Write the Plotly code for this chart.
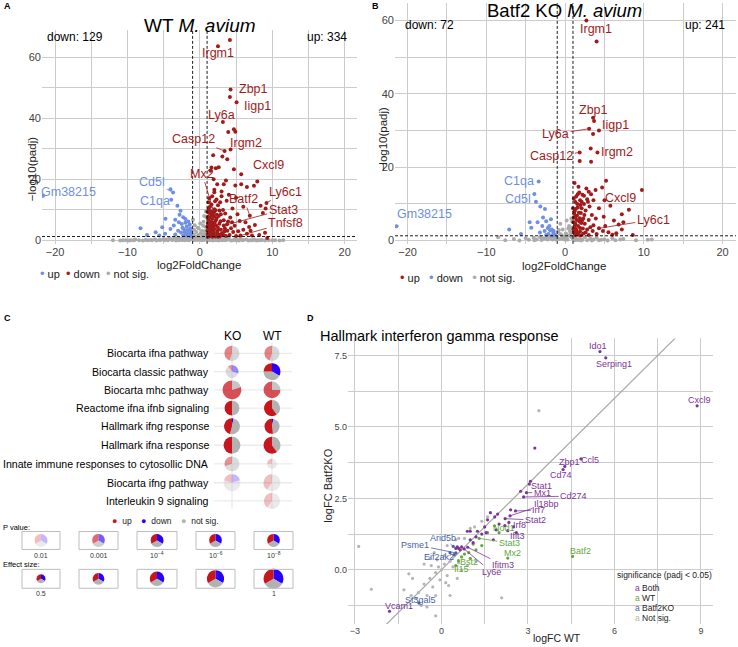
import plotly.graph_objects as go
import math

# ================= DATA =================
# ---- Panel A : WT M. avium volcano (log2FoldChange, -log10 padj) ----
A_red_x = [4.15,2.5,4.24,4.15,5.07,3.18,3.92,4.7,4.9,3.41,4.24,3.78,1.84,3.1,2.6,1.6,1.5,2.2,5.71,4.7,7.93,5.71,2.4,3.3,4.9,6.5,7.47,3.0,2.0,1.7,4.0,5.0,3.7,2.8,9.2,8.39,9.08,6.0,2.5,1.4,4.5,3.2,2.0,1.2,1.94,6.9,5.2,3.5,2.6,1.6,1.1,4.2,8.7,7.6,9.3,9.0,6.3,5.5,3.3,2.2,1.4,1.1,1.8,2.7,3.9,4.8,1.3,2.0,2.9,3.8,4.6,5.6,6.5,7.2,1.2,1.6,2.4,3.2,4.1,5.0,1.1,1.5,2.0,2.8,1.3,6.0,7.0,8.2,3.6,2.3,1.7,1.3,2.1,3.0,1.5,2.5,3.4,1.9,4.3,5.3,6.8,1.2,1.9,3.6,
           1.05,1.25,1.45,1.65,1.85,2.05,2.25,2.45,2.65,2.85,1.15,1.35,1.55,1.75,1.95,2.15,2.35,1.05,1.25,1.15,1.35,1.55,1.75,1.95,2.15,2.55,3.05,3.45,3.75,4.45,1.05,1.45,1.7,2.9,3.3,1.6,2.3,1.3,2.0,2.7]
A_red_y = [65.6,63.5,49.4,46.9,45.2,38.8,35.5,36.4,35.6,29.3,29.8,26.6,27.9,27.5,24.0,23.9,22.8,23.6,21.7,23.3,19.3,18.4,18.4,18.4,18.0,17.5,17.9,16.0,15.8,14.5,15.0,14.0,13.0,12.5,12.3,11.4,10.5,11.0,11.5,11.0,10.5,10.0,10.2,9.8,9.2,8.1,8.6,8.8,8.0,8.3,7.8,7.5,9.0,5.1,0.8,2.5,6.0,6.4,4.9,6.6,6.2,5.6,5.0,5.5,6.2,4.8,4.2,3.8,3.5,3.2,2.8,1.6,2.2,1.6,3.0,2.6,2.4,2.0,1.8,1.5,2.0,1.6,1.5,1.4,1.4,3.5,3.2,1.8,1.5,7.2,7.0,9.0,12.8,14.5,4.5,4.2,3.0,2.2,4.0,3.0,4.4,12.5,20.0,19.6,
           3.3,4.9,5.5,3.4,4.4,5.8,4.9,3.2,2.0,6.3,6.8,7.5,9.6,8.6,7.9,9.9,8.4,9.5,10.6,1.2,2.3,1.9,1.2,2.8,1.3,1.2,2.4,4.0,5.3,6.0,4.6,3.6,5.9,8.6,6.6,11.8,13.4,13.8,16.6,9.8]
A_blue_x = [-21.66,-3.7,-4.06,-3.96,-3.1,-2.67,-2.3,-4.75,-8.2,-7.3,-6.1,-4.06,-3.6,-5.2,-2.9,-2.5,-2.0,-1.6,-1.8,-1.3,-2.2,-3.0,-1.5,-2.6,-1.9,-1.2,-3.4,-2.3,-1.6,-1.3,-4.8,-2.0,-3.4,-2.8,-1.4,-5.6,-1.7,-2.1,-1.45,-1.95,-2.4,-1.25]
A_blue_y = [14.6,15.7,16.8,13.3,11.4,9.7,7.6,7.1,4.0,1.8,2.7,3.8,4.9,4.3,6.0,5.4,5.8,6.2,4.6,4.0,3.7,3.2,3.0,2.6,2.3,2.2,2.0,1.7,1.6,1.5,2.2,7.0,6.8,8.4,5.2,1.6,3.4,2.8,2.5,1.9,4.2,3.1]
A_gray_x = [-8.9,-7.5,-6.2,-5.0,-4.2,-3.5,-3.0,-2.6,-2.2,-1.9,-1.6,-1.3,-1.1,-0.9,-0.8,-0.7,-0.6,-0.5,-0.4,-0.3,-0.2,-0.1,0.0,0.1,0.2,0.3,0.4,0.5,0.6,0.7,0.8,0.9,0.95,0.85,0.7,0.6,0.45,1.2,1.6,2.1,2.7,3.3,4.0,4.8,5.6,6.4,7.5,8.6,10.4,-10.2,-0.95,-0.75,0.25,-0.35,0.05,-0.15,0.35,-0.55,0.75,-1.0,-12.0,-9.5,-6.8,-5.6,-4.6,-3.8,-3.2,-2.8,-2.4,-2.0,-1.7,-1.4,1.5,2.4,3.0,3.8,5.2,6.0,7.0,8.0,9.5,11.5,
            -11.0,-10.6,-9.8,-9.1,-8.4,-7.9,-7.2,-6.6,-6.0,-5.4,-4.9,-4.4,-3.9,-3.3,-2.9,-2.5,-2.1,-1.8,-1.5,-1.2,1.3,1.8,2.2,2.6,3.1,3.5,4.3,4.6,5.0,5.4,5.9,6.7,7.3,7.8,8.3,9.0,10.0,11.0,-0.65,-0.45,-0.25,0.15,0.55,0.9]
A_gray_y = [0.3,0.2,0.4,0.5,0.7,0.9,1.0,0.6,0.8,1.1,0.4,0.9,1.2,2.0,3.5,5.0,1.4,2.8,0.6,4.2,1.8,0.3,1.0,2.4,0.5,3.2,1.5,6.1,0.8,2.2,4.4,7.5,1.2,9.5,3.0,8.0,4.8,0.5,0.9,0.4,0.8,0.6,0.9,0.4,0.7,0.3,0.3,0.2,0.1,0.1,6.8,0.2,0.1,0.15,5.6,3.9,2.0,1.0,1.8,0.5,0.05,0.1,0.15,0.2,0.3,0.2,0.45,0.3,0.2,0.5,0.2,0.3,0.2,0.3,0.15,0.25,0.15,0.2,0.1,0.1,0.05,0.05,
            0.0,0.1,0.0,0.05,0.1,0.0,0.05,0.1,0.0,0.15,0.05,0.1,0.3,0.0,0.1,0.2,0.05,0.3,0.1,0.5,0.05,0.0,0.1,0.0,0.05,0.1,0.0,0.05,0.1,0.0,0.05,0.0,0.1,0.0,0.05,0.0,0.1,0.0,0.6,0.3,0.7,0.4,0.2,0.3]
A_genes = ["Irgm1","Zbp1","Iigp1","Ly6a","Casp12","Irgm2","Cxcl9","Ly6c1","Batf2","Stat3","Tnfsf8","Mx2","Cd5l","C1qa","Gm38215"]
A_gene_lfc = [2.5,4.24,5.07,3.18,3.41,4.24,7.93,9.2,6.9,3.3,5.6,1.94,-3.7,-3.96,-21.66]
A_gene_p = [63.5,49.4,45.2,38.8,29.3,29.8,19.3,12.3,8.1,4.9,1.6,9.2,15.7,13.3,14.6]
A_counts = {"down": 129, "up": 334}

# ---- Panel B : Batf2 KO M. avium volcano ----
B_red_x = [2.7,4.0,3.68,3.55,4.3,3.55,3.05,3.25,4.1,1.85,1.85,3.3,5.2,1.2,9.75,4.7,3.87,1.8,3.0,2.2,2.8,1.4,1.9,3.6,2.4,1.3,5.75,8.1,7.2,4.3,3.1,1.6,2.6,1.2,2.0,3.4,4.9,1.5,2.3,1.1,7.4,6.2,3.0,1.8,1.3,2.5,4.3,3.6,5.1,6.8,7.2,1.2,1.9,2.8,3.5,5.5,6.5,1.1,1.6,2.3,4.0,6.0,1.3,2.0,3.0,4.8,8.6,1.4,2.1,1.7,2.9,5.0,
           1.05,1.25,1.45,1.65,1.85,2.05,2.25,2.45,1.15,1.35,1.55,1.75,1.95,2.15,1.05,1.2,1.45,1.7,2.6,3.2,1.1,1.6,2.4,3.3,2.7,3.9,1.3,1.9,2.1,1.0]
B_red_y = [60.0,54.3,32.6,33.5,30.0,29.1,30.5,25.1,24.0,24.0,21.7,21.5,16.3,15.7,13.8,14.5,13.8,13.1,13.3,12.5,11.3,12.0,11.0,11.0,10.0,10.5,9.5,8.4,7.2,8.8,9.3,9.0,8.2,8.0,7.5,7.0,6.5,6.8,6.0,6.2,5.0,5.5,5.6,5.2,4.6,4.6,3.35,4.2,4.0,4.4,3.0,3.6,3.4,3.0,2.6,2.3,2.0,2.4,2.0,1.9,1.8,1.6,1.5,1.4,1.5,2.6,1.5,3.0,8.8,14.7,10.6,11.0,
           3.1,4.2,5.6,4.0,6.1,4.8,3.3,7.0,7.3,8.6,10.0,7.6,9.7,5.4,5.0,1.9,2.6,1.6,2.2,3.6,11.4,12.6,12.2,12.6,14.2,6.0,6.5,2.5,10.6,8.8]
B_blue_x = [-21.4,-3.36,-3.9,-3.7,-7.1,-5.6,-3.15,-2.56,-4.5,-4.3,-3.5,-2.9,-2.4,-2.0,-1.7,-2.6,-3.2,-1.5,-2.1,-1.3,-1.8,-2.8,-1.6,-2.4,-1.9,-2.2,-1.45]
B_blue_y = [3.9,16.1,12.7,10.6,3.0,1.8,9.3,8.6,5.0,3.5,5.0,4.0,5.3,4.0,3.0,2.6,2.2,2.2,1.8,1.6,5.8,6.3,1.4,1.5,2.8,3.4,2.6]
B_gray_x = [-8.5,-6.5,-5.0,-4.0,-3.2,-2.5,-1.9,-1.4,-1.1,-0.9,-0.7,-0.5,-0.3,-0.1,0.1,0.3,0.5,0.6,0.8,0.9,0.7,0.4,0.2,0.95,1.3,1.8,2.5,3.2,4.0,5.0,6.0,7.0,7.4,11.0,-0.6,-0.8,0.0,-0.2,0.65,0.85,-1.2,1.0,-3.6,-2.9,-2.2,-1.6,1.5,2.2,3.6,4.6,9.0,10.5,
            -7.6,-5.8,-4.6,-3.9,-3.0,-2.7,-2.3,-1.7,-1.3,-1.0,1.2,1.6,2.0,2.8,3.4,4.3,5.4,6.4,-0.35,0.15,0.45,-0.65,0.75]
B_gray_y = [0.9,0.4,0.6,0.8,1.0,0.5,1.0,0.6,1.2,2.4,0.4,1.6,3.0,0.8,1.9,0.3,4.0,2.6,6.0,5.2,1.2,3.3,5.5,0.6,0.7,0.4,0.9,0.5,0.8,0.3,0.6,0.3,0.4,0.3,4.6,2.9,0.2,1.1,3.6,0.9,0.3,1.0,0.3,0.4,0.3,0.3,0.3,0.2,0.3,0.2,0.1,0.2,
            0.1,0.05,0.2,0.1,0.15,0.6,0.8,0.4,0.5,0.7,0.1,0.15,0.05,0.1,0.05,0.1,0.05,0.1,0.5,0.7,1.4,1.8,2.0]
B_genes = ["Irgm1","Zbp1","Iigp1","Ly6a","Casp12","Irgm2","Cxcl9","Ly6c1","C1qa","Cd5l","Gm38215"]
B_gene_lfc = [2.7,3.68,4.3,3.05,1.85,4.1,5.75,4.3,-3.36,-3.9,-21.4]
B_gene_p = [60.0,32.6,30.0,30.5,24.0,24.0,9.5,3.35,16.1,12.7,3.9]
B_counts = {"down": 72, "up": 241}

# ---- Panel C : pathway pies ----
pathways = ["Biocarta ifna pathway","Biocarta classic pathway","Biocarta mhc pathway",
            "Reactome ifna ifnb signaling","Hallmark ifng response","Hallmark ifna response",
            "Innate immune responses to cytosollic DNA","Biocarta ifng pathway","Interleukin 9 signaling"]
KO_up   = [0.45,0.10,0.80,0.50,0.46,0.50,0.30,0.20,0]
KO_down = [0.00,0.30,0.00,0.00,0.03,0.00,0.00,0.20,0]
KO_ns   = [0.55,0.60,0.20,0.50,0.51,0.50,0.70,0.60,0]
KO_effect = [0.78,0.68,0.95,0.77,0.82,0.86,0.77,0.86,0]
KO_pval = [2e-3,3e-3,5e-4,1e-6,1e-8,1e-8,3e-3,1e-2,1]
WT_up   = [0.45,0.25,0.75,0.60,0.52,0.60,0.25,0.40,0.40]
WT_down = [0.00,0.33,0.00,0.00,0.03,0.00,0.00,0.00,0.00]
WT_ns   = [0.55,0.42,0.25,0.40,0.45,0.40,0.75,0.60,0.60]
WT_effect = [0.78,0.86,0.86,0.82,0.78,0.86,0.55,0.86,0.82]
WT_pval = [2e-3,1e-5,5e-4,1e-6,1e-8,1e-8,1e-2,1e-2,1e-2]
legend_p = [1e-2,1e-3,1e-4,1e-6,1e-8]
legend_p_text = ["0.01","0.001","10<sup>−4</sup>","10<sup>−6</sup>","10<sup>−8</sup>"]
legend_effect = [0.5,0.625,0.75,0.875,1.0]
legend_effect_text = ["0.5","","","","1"]

# ---- Panel D : Hallmark interferon gamma response (logFC WT vs logFC Batf2KO) ----
D_both_x = [5.50,5.70,8.87,3.24,4.84,4.28,4.22,3.09,3.05,2.95,2.85,2.75,2.38,2.57,2.21,2.34,2.30,0.91,0.79,-1.80,
            1.7,1.85,1.95,1.6,2.0,1.9,2.2,1.5,1.55,1.25,0.9,1.0,1.2,1.4,1.1,1.0,0.7,0.6,0.55,0.5,0.65,2.4,2.5,2.6,1.8]
D_both_y = [7.64,7.42,5.74,4.26,3.88,3.62,3.51,3.10,3.0,2.70,2.55,2.75,1.89,2.06,1.79,1.66,1.37,0.79,0.73,-1.45,
            2.0,1.85,1.95,1.75,1.6,1.4,1.55,1.5,1.3,1.35,1.35,1.35,1.15,1.25,0.95,1.05,0.8,0.75,0.8,0.75,0.7,2.1,1.5,1.3,1.05]
D_wt_x = [1.84,1.31,2.30,4.55,0.59,0.50,1.1,1.2,1.4,0.95,0.7,1.6,1.0,0.8,2.0]
D_wt_y = [1.54,1.10,0.41,0.47,0.32,0.15,0.9,0.7,0.85,0.6,0.45,1.3,0.4,0.55,1.3]
D_ko_x = [0.44,0.50,0.41,-0.78,0.30]
D_ko_y = [0.53,0.59,0.82,-1.16,0.60]
D_ns_x = [-2.87,-2.43,-1.13,-0.20,2.09,3.38,-0.8,-0.6,-0.4,-0.2,0.0,0.1,0.2,0.3,-0.1,-0.3,-0.5,-0.9,-0.7,0.15,0.25,-0.05,0.4,0.6,0.8,1.0,1.15,0.5,0.6,1.6,1.4,0.1,-0.15,-0.35,-0.6,-0.4,0.3,0.55,-1.3,-1.0,-0.2,0.7,0.9,1.2,-0.5,-1.05,0.2,-0.25]
D_ns_y = [0.82,-0.68,-0.14,-1.61,-0.98,5.57,-0.8,-0.5,-0.3,-0.1,0.0,0.2,-0.2,0.3,0.1,-0.6,-0.9,-1.0,-1.25,-0.45,-0.55,-0.35,0.1,0.25,1.1,1.45,1.5,1.05,1.1,1.85,1.7,0.5,0.35,0.15,0.2,0.4,-0.9,-0.3,-0.7,-0.3,-0.9,0.0,0.15,0.3,-1.3,-0.9,0.85,0.6]
D_genes = ["Ido1","Serping1","Cxcl9","Ccl5","Zbp1","Cd74","Stat1","Mx1","Cd274","Il18bp","Irf7","Stat2","Irf8","Ifit3",
           "Nod1","Stat3","Mx2","Batf2","Ifitm3","Ly6e","Bst2","Il15","Eif2ak2","Psme1","Arid5b","St3gal5","Vcam1"]
D_gene_x = [5.50,5.70,8.87,4.84,4.28,4.22,3.09,2.95,2.85,2.38,2.57,2.21,2.34,2.30,1.84,1.31,2.30,4.55,0.91,0.79,0.59,0.50,0.44,0.50,0.41,-0.78,-1.80]
D_gene_y = [7.64,7.42,5.74,3.88,3.62,3.51,3.10,2.70,2.55,1.89,2.06,1.79,1.66,1.37,1.54,1.10,0.41,0.47,0.79,0.73,0.32,0.15,0.53,0.59,0.82,-1.16,-1.45]
D_gene_sig = ["Both","Both","Both","Both","Both","Both","Both","Both","Both","Both","Both","Both","Both","Both",
              "WT","WT","WT","WT","Both","Both","WT","WT","Batf2KO","Batf2KO","Batf2KO","Batf2KO","Both"]

# ================= STYLE / LAYOUT =================
W, H = 738, 647
def px(x): return x / W
def py(y): return 1 - y / H

FONT = "Liberation Sans, Arial, sans-serif"
RED_V, BLUE_V, GRAY_V = "#A21B1B", "#6F8FE4", "#ABABAB"
RED_P, BLUE_P, GRAY_P = (200, 22, 30), (40, 0, 255), (178, 178, 178)
SIG_COL = {"Both": "#7B3597", "WT": "#62A83E", "Batf2KO": "#4A62A6", "Not sig.": "#B5B5B5"}
GRID = "#CCCCCC"

fig = go.Figure()
ann = []
shapes = []

def pt_trace(x, y, color, xa, ya, size=4):
    fig.add_trace(go.Scatter(x=x, y=y, mode="markers", xaxis=xa, yaxis=ya,
                             marker=dict(color=color, size=size, line=dict(width=0)),
                             showlegend=False, hoverinfo="skip"))

# ----- volcano panels -----
pt_trace(A_gray_x, A_gray_y, GRAY_V, "x", "y")
pt_trace(A_blue_x, A_blue_y, BLUE_V, "x", "y")
pt_trace(A_red_x, A_red_y, RED_V, "x", "y")
pt_trace(B_gray_x, B_gray_y, GRAY_V, "x2", "y2")
pt_trace(B_blue_x, B_blue_y, BLUE_V, "x2", "y2")
pt_trace(B_red_x, B_red_y, RED_V, "x2", "y2")

A_place = {"Irgm1": (2.49, 61.2, False), "Zbp1": (7.37, 49.4, False), "Iigp1": (7.93, 43.9, False),
           "Ly6a": (2.95, 41.0, False), "Casp12": (-0.83, 33.1, True), "Irgm2": (6.31, 31.8, False),
           "Cxcl9": (9.54, 24.6, False), "Ly6c1": (11.84, 15.9, True), "Batf2": (6.08, 13.6, True),
           "Stat3": (11.5, 10.1, True), "Tnfsf8": (11.84, 5.75, True), "Mx2": (0.32, 21.9, True),
           "Cd5l": (-6.59, 19.3, True), "C1qa": (-6.13, 12.8, False), "Gm38215": (-18.1, 15.9, False)}
B_place = {"Irgm1": (3.9, 57.6, False), "Zbp1": (3.6, 35.5, False), "Iigp1": (6.4, 31.4, False),
           "Ly6a": (-1.2, 29.1, True), "Casp12": (-1.7, 23.1, True), "Irgm2": (6.6, 24.2, False),
           "Cxcl9": (7.0, 11.5, False), "Ly6c1": (11.2, 5.7, True), "C1qa": (-5.9, 16.3, False),
           "Cd5l": (-6.0, 11.3, True), "Gm38215": (-17.8, 7.2, False)}

def gene_label(xr, yr, g, x, y, place, color, size):
    lx, ly, seg = place
    if seg:
        ann.append(dict(x=x, y=y, ax=lx, ay=ly, xref=xr, yref=yr, axref=xr, ayref=yr, text=g,
                        showarrow=True, arrowhead=0, arrowwidth=0.8, arrowcolor=color, standoff=1,
                        font=dict(size=size, color=color, family=FONT)))
    else:
        ann.append(dict(x=lx, y=ly, xref=xr, yref=yr, text=g, showarrow=False,
                        font=dict(size=size, color=color, family=FONT)))

for g, x, y in zip(A_genes, A_gene_lfc, A_gene_p):
    gene_label("x", "y", g, x, y, A_place[g], BLUE_V if x < 0 else RED_V, 12.5)
for g, x, y in zip(B_genes, B_gene_lfc, B_gene_p):
    gene_label("x2", "y2", g, x, y, B_place[g], BLUE_V if x < 0 else RED_V, 12.5)

DASH = dict(color="black", width=0.9, dash="3px,2px")
for xr, yr in (("x", "y"), ("x2", "y2")):
    for v in (-1, 1):
        shapes.append(dict(type="line", xref=xr, yref=yr + " domain", x0=v, x1=v, y0=0, y1=1, line=DASH))
    shapes.append(dict(type="line", xref=xr + " domain", yref=yr, x0=0, x1=1, y0=1.3, y1=1.3, line=DASH))

def txt(x, y, text, size, color="black", xanchor="center", yanchor="middle", angle=0):
    ann.append(dict(x=px(x), y=py(y), xref="paper", yref="paper", text=text, showarrow=False,
                    xanchor=xanchor, yanchor=yanchor, textangle=angle,
                    font=dict(size=size, color=color, family=FONT)))

# titles and texts for A/B
txt(200, 26, "WT <i>M. avium</i>", 19)
txt(564, 11, "Batf2 KO <i>M. avium</i>", 18.5)
txt(45, 37, f"down: {A_counts['down']}", 12, xanchor="left")
txt(349, 37, f"up: {A_counts['up']}", 12, xanchor="right")
txt(403, 25, f"down: {B_counts['down']}", 12, xanchor="left")
txt(727, 25, f"up: {B_counts['up']}", 12, xanchor="right")
txt(199, 266, "log2FoldChange", 11.5, "#222")
txt(564, 267, "log2FoldChange", 11.5, "#222")
txt(32, 170, "−log10(padj)", 11.5, "#222", angle=-90)
txt(383, 140, "−log10(padj)", 11.5, "#222", angle=-90)

def dot(c, s=13):
    return f"<span style='color:{c};font-size:{s}px'>•</span>"
txt(38, 275, f"{dot(BLUE_V)} up  {dot(RED_V)} down  {dot(GRAY_V)} not sig.", 11, "#222", xanchor="left")
txt(398, 279, f"{dot(RED_V)} up   {dot(BLUE_V)} down   {dot(GRAY_V)} not sig.", 11, "#222", xanchor="left")

# panel letters
for (x, y, l) in ((2, 6, "A"), (370, 6, "B"), (2, 319, "C"), (305, 319, "D")):
    txt(x, y, f"<b>{l}</b>", 9, xanchor="left")

# ----- panel C -----
row_y = [355, 373.3, 391.7, 410, 428.3, 447.3, 466, 485, 503.3]
col_x = {"KO": 232, "WT": 272}

def diam(e):
    return 9 + 11 * (e - 0.5) / 0.5

def alpha(p):
    L = -math.log10(p)
    return max(0.28, min(1.0, 0.28 + 0.36 * (L - 2)))

def rgba(c, a):
    return f"rgba({c[0]},{c[1]},{c[2]},{a:.2f})"

def add_pie(cx, cy, d, up, down, ns, a):
    vals, cols, labs = [], [], []
    for v, c, l in ((down, BLUE_P, "down"), (ns, GRAY_P, "ns"), (up, RED_P, "up")):
        if v > 0:
            vals.append(v); cols.append(rgba(c, a)); labs.append(l)
    fig.add_trace(go.Pie(values=vals, labels=labs, marker=dict(colors=cols, line=dict(width=0)),
                         sort=False, direction="clockwise", rotation=0, textinfo="none",
                         hoverinfo="skip", showlegend=False,
                         domain=dict(x=[px(cx - d / 2), px(cx + d / 2)], y=[py(cy + d / 2), py(cy - d / 2)])))

for i, name in enumerate(pathways):
    y = row_y[i]
    txt(211, y, name, 10.6, xanchor="right")
    shapes.append(dict(type="line", xref="paper", yref="paper", x0=px(214), x1=px(292), y0=py(y), y1=py(y),
                       line=dict(color="#EBEBEB", width=1.3), layer="below"))
for k, cx in col_x.items():
    txt(cx, 338, k, 12)
    shapes.append(dict(type="line", xref="paper", yref="paper", x0=px(cx), x1=px(cx), y0=py(344), y1=py(511),
                       line=dict(color="#EBEBEB", width=1.3), layer="below"))
for i in range(len(pathways)):
    if KO_effect[i] > 0:
        add_pie(col_x["KO"], row_y[i], diam(KO_effect[i]), KO_up[i], KO_down[i], KO_ns[i], alpha(KO_pval[i]))
    if WT_effect[i] > 0:
        add_pie(col_x["WT"], row_y[i], diam(WT_effect[i]), WT_up[i], WT_down[i], WT_ns[i], alpha(WT_pval[i]))

# C legend
def cdot(c):
    return f"<span style='color:rgb{c};font-size:9px'>●</span>"
txt(110, 523, f"{cdot(RED_P)}  up    {cdot(BLUE_P)}  down    {cdot(GRAY_P)}  not sig.", 8.5, "#222", xanchor="left")
txt(1, 530, "P value:", 7.5, xanchor="left")
txt(1, 567, "Effect size:", 7.5, xanchor="left")
box_x = [(22, 60), (79, 118), (137, 177), (196, 235), (254, 293)]
for j, (x0, x1) in enumerate(box_x):
    cx = (x0 + x1) / 2
    shapes.append(dict(type="rect", xref="paper", yref="paper", x0=px(x0), x1=px(x1), y0=py(552), y1=py(534),
                       line=dict(color="#BDBDBD", width=1)))
    shapes.append(dict(type="rect", xref="paper", yref="paper", x0=px(x0), x1=px(x1), y0=py(591), y1=py(572),
                       line=dict(color="#BDBDBD", width=1)))
    add_pie(cx, 543, 13, 1 / 3, 1 / 3, 1 / 3, alpha(legend_p[j]))
    add_pie(cx, 581.5, diam(legend_effect[j]), 1 / 3, 1 / 3, 1 / 3, 1.0)
    txt(cx, 558, legend_p_text[j], 7, "#333")
    if legend_effect_text[j]:
        txt(cx, 596, legend_effect_text[j], 7, "#333")

# ----- panel D -----
DIAG = [-2.2, 8.15]
fig.add_trace(go.Scatter(x=DIAG, y=DIAG, mode="lines", xaxis="x3", yaxis="y3",
                         line=dict(color="#A8A8A8", width=1.2), showlegend=False, hoverinfo="skip"))
pt_trace(D_ns_x, D_ns_y, SIG_COL["Not sig."], "x3", "y3", 3.2)
pt_trace(D_ko_x, D_ko_y, SIG_COL["Batf2KO"], "x3", "y3", 3.2)
pt_trace(D_wt_x, D_wt_y, SIG_COL["WT"], "x3", "y3", 3.2)
pt_trace(D_both_x, D_both_y, SIG_COL["Both"], "x3", "y3", 3.2)

D_place = {"Ido1": (5.42, 7.82, False), "Serping1": (5.97, 7.21, False), "Cxcl9": (8.95, 5.94, False),
           "Ccl5": (5.17, 3.86, False), "Zbp1": (4.43, 3.77, False), "Cd74": (4.14, 3.32, False),
           "Stat1": (3.47, 2.95, False), "Mx1": (3.50, 2.70, True), "Cd274": (4.59, 2.58, True),
           "Il18bp": (3.64, 2.31, True), "Irf7": (3.38, 2.09, True), "Stat2": (3.26, 1.74, True),
           "Irf8": (2.71, 1.57, False), "Ifit3": (2.63, 1.19, False), "Nod1": (2.16, 1.47, False),
           "Stat3": (2.36, 0.94, True), "Mx2": (2.48, 0.59, False), "Batf2": (4.84, 0.65, False),
           "Ifitm3": (2.13, 0.17, True), "Ly6e": (1.72, -0.06, True), "Bst2": (0.97, 0.27, False),
           "Il15": (0.70, 0.03, False), "Eif2ak2": (-0.10, 0.44, True), "Psme1": (-0.90, 0.88, True),
           "Arid5b": (0.06, 1.13, True), "St3gal5": (-0.72, -1.04, False), "Vcam1": (-1.48, -1.27, False)}
for g, x, y, s in zip(D_genes, D_gene_x, D_gene_y, D_gene_sig):
    gene_label("x3", "y3", g, x, y, D_place[g], SIG_COL[s], 9)

txt(318, 338, "Hallmark interferon gamma response", 14.5, xanchor="left")
txt(557, 641, "logFC WT", 10.5, "#222")
txt(328, 488, "logFC Batf2KO", 11, "#222", angle=-90)
txt(615, 578, "significance (padj < 0.05)", 8.5, "#222", xanchor="left")
for k, (lab, yy) in enumerate((("Both", 591), ("WT", 601), ("Batf2KO", 611), ("Not sig.", 621))):
    txt(633, yy, f"<span style='color:{SIG_COL[lab]}'>a</span> {lab}", 8.5, "#222", xanchor="left")

# ----- axes -----
tickf = dict(size=11, color="#444", family=FONT)
def vaxis(domain, rng, tv, minor, tf=tickf, ttext=None):
    d = dict(domain=domain, range=rng, tickvals=tv, showgrid=True, gridcolor=GRID, gridwidth=1,
             zeroline=False, showline=False, ticks="", tickfont=tf,
             minor=dict(tickvals=minor, showgrid=True, gridcolor=GRID, gridwidth=1, ticks=""))
    if ttext is not None:
        d["ticktext"] = ttext
    return d

fig.update_layout(
    width=W, height=H, margin=dict(l=0, r=0, t=0, b=0),
    paper_bgcolor="white", plot_bgcolor="white", showlegend=False,
    font=dict(family=FONT),
    xaxis=vaxis([px(42), px(357)], [-21.8, 21.7], [-20, -10, 0, 10, 20], [-15, -5, 5, 15]),
    yaxis=vaxis([py(245), py(30)], [-1.1, 68.9], [0, 20, 40, 60], [10, 30, 50]),
    xaxis2=vaxis([px(395), px(736)], [-21.6, 21.7], [-20, -10, 0, 10, 20], [-15, -5, 5, 15]),
    yaxis2=vaxis([py(245), py(3)], [-0.9, 64.8], [0, 20, 40, 60], [10, 30, 50]),
    xaxis3=vaxis([px(348), px(713)], [-3.24, 9.42], [-3, 0, 3, 6, 9], [-1.5, 1.5, 4.5, 7.5],
                 dict(size=9, color="#444", family=FONT)),
    yaxis3=vaxis([py(627), py(340)], [-1.9, 8.1], [0, 2.5, 5, 7.5], [-1.25, 1.25, 3.75, 6.25],
                 dict(size=9, color="#444", family=FONT), ["0.0", "2.5", "5.0", "7.5"]),
    annotations=ann, shapes=shapes,
)
fig.update_layout(xaxis2=dict(anchor="y2"), yaxis2=dict(anchor="x2"),
                  xaxis3=dict(anchor="y3"), yaxis3=dict(anchor="x3"))

fig.write_html("out.html", config={"displayModeBar": False},
               post_script="document.body.style.margin='0px';")
